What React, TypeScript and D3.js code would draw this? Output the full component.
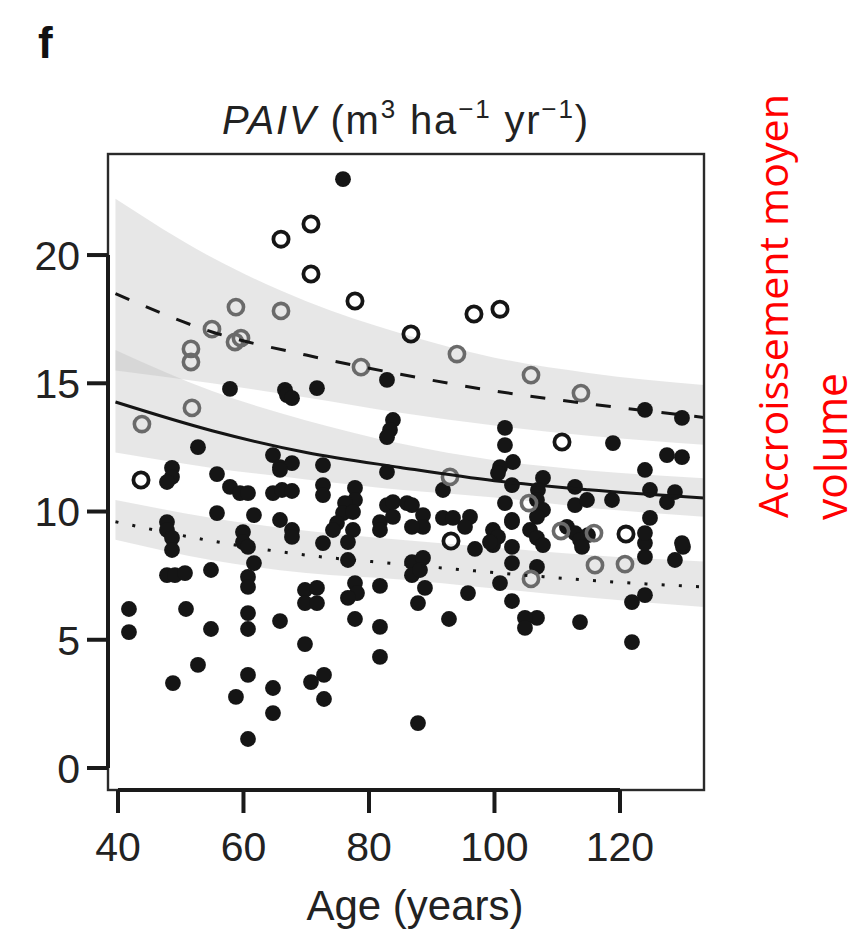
import React from "react";
import * as d3 from "d3";

// ---------- data ----------
const xTicks = [40, 60, 80, 100, 120];
const yTicks = [0, 5, 10, 15, 20];

const filledPoints: [number, number][] = [
  [75.86,22.96],
  [57.85,14.78],[66.61,14.74],[66.93,14.54],[67.73,14.42],[71.71,14.81],[82.87,15.13],
  [83.82,13.57],[83.35,13.18],[82.87,12.90],
  [52.75,12.51],[64.70,12.20],[65.82,11.73],[67.73,11.89],[65.82,11.62],[72.67,11.81],[82.87,11.54],
  [48.61,11.70],[48.61,11.35],[47.81,11.15],[55.78,11.46],
  [57.85,10.96],[59.44,10.72],[60.72,10.72],[64.70,10.72],[66.14,10.84],[67.73,10.80],
  [72.67,11.03],[72.67,10.64],[77.77,10.92],[77.77,10.45],[76.18,10.33],[75.86,9.94],[77.45,9.98],
  [82.87,10.25],[83.82,10.37],
  [55.78,9.94],[61.67,9.86],[65.82,9.67],[67.73,9.28],[67.73,9.01],
  [74.90,9.55],[74.26,9.28],[77.45,9.28],[76.65,8.81],[81.75,9.59],[81.75,9.28],
  [47.81,9.59],[47.81,9.28],[48.61,8.97],[48.61,8.50],
  [59.92,9.20],[59.92,8.81],[60.72,8.62],[72.67,8.77],[86.06,10.33],
  [41.75,6.20],[41.75,5.30],
  [47.81,7.52],[49.08,7.52],[50.68,7.60],[54.82,7.72],[50.84,6.20],[54.82,5.42],[48.76,3.31],[52.75,4.02],
  [61.67,7.99],[60.72,7.45],[60.72,7.06],[60.72,6.04],[60.72,5.42],[65.82,5.73],[60.72,3.63],[58.80,2.77],[64.70,3.12],[64.70,2.14],[60.72,1.13],
  [69.80,6.94],[71.71,7.02],[69.80,6.43],[71.71,6.43],[69.80,4.83],[70.76,3.35],[72.83,3.63],[72.83,2.69],
  [76.65,8.11],[77.77,7.21],[78.09,6.82],[76.65,6.63],[77.77,5.81],[81.75,7.10],[81.75,5.50],[81.75,4.33],
  [87.81,1.75],[86.85,8.03],[88.61,8.19],[86.85,7.52],[88.13,7.72],[88.92,7.02],[87.81,6.43],
  [92.75,5.81],[95.78,6.82],[96.89,8.54],[99.76,8.69],[102.79,8.62],[102.79,7.99],[100.88,7.21],[102.79,6.51],
  [106.77,7.84],[106.77,5.85],[104.86,5.85],[104.86,5.46],[113.63,5.69],
  [123.98,8.23],[123.98,6.74],[121.91,6.47],[121.91,4.91],[128.76,8.11],[130.04,8.62],[123.98,8.77],
  [101.67,13.26],[101.67,12.59],[102.95,11.93],[100.88,11.73],[100.56,11.50],[102.79,11.03],[101.67,10.33],[102.79,9.67],
  [107.73,11.31],[106.93,10.84],[106.77,10.45],[107.73,10.06],[106.77,9.79],
  [112.83,10.96],[112.83,10.25],[114.74,10.45],[118.73,10.45],[118.88,12.67],
  [123.98,13.96],[129.88,13.65],[127.49,12.20],[129.88,12.12],[123.98,11.62],
  [124.78,10.84],[127.49,10.37],[128.76,10.76],[124.78,9.75],[123.98,9.16],[129.88,8.77],
  [91.79,10.84],[83.82,9.79],[86.85,10.25],[88.61,9.86],[88.61,9.40],[86.85,9.40],
  [91.79,9.75],[93.39,9.75],[96.10,9.79],[95.30,9.40],
  [99.76,9.28],[100.56,9.01],[99.28,8.81],[102.79,9.59],
  [105.66,9.28],[106.77,8.97],[107.73,8.69],
  [111.55,9.40],[112.83,9.16],[113.63,8.89],[114.90,9.08],[113.95,8.62],
];

const openBlackPoints: [number, number][] = [
  [65.98,20.62],[70.76,21.21],[70.76,19.26],[77.77,18.21],[86.69,16.92],[96.73,17.70],
  [100.88,17.89],[43.67,11.23],[110.76,12.71],[93.07,8.85],[120.96,9.12],
];

const openGrayPoints: [number, number][] = [
  [43.82,13.41],[51.79,14.04],[51.63,16.34],[51.63,15.83],[54.98,17.11],[58.80,17.97],
  [58.65,16.61],[59.60,16.76],[65.98,17.82],[78.73,15.63],[94.02,16.14],[105.82,15.32],
  [113.78,14.62],[92.91,11.35],[105.50,10.33],[105.82,7.37],[116.02,7.91],[120.80,7.95],
  [115.86,9.16],[110.60,9.24],
];

// fitted curves and confidence bands, sampled at these ages
const curveAges = [39.6, 55, 70, 85, 100, 115, 133.4];
const dashedFit = [18.5, 17.0, 16.1, 15.35, 14.7, 14.2, 13.67];
const solidFit = [14.27, 13.15, 12.3, 11.72, 11.2, 10.85, 10.53];
const dottedFit = [9.6, 8.85, 8.3, 7.95, 7.62, 7.32, 7.06];
const upperBandHi = [22.2, 19.9, 18.2, 16.95, 16.0, 15.4, 14.93];
const upperBandLo = [15.5, 15.0, 14.45, 13.85, 13.35, 12.95, 12.6];
const midBandHi = [16.3, 14.7, 13.55, 12.65, 12.0, 11.6, 11.3];
const midBandLo = [12.3, 11.7, 11.25, 10.85, 10.55, 10.15, 9.8];
const lowBandHi = [10.45, 9.75, 9.25, 8.9, 8.6, 8.3, 8.05];
const lowBandLo = [8.9, 8.1, 7.6, 7.35, 7.0, 6.65, 6.28];

const W = 863;
const H = 929;
const FONT = "'Liberation Sans', Arial, Helvetica, sans-serif";
const RED_FONT = "'Open Sans', 'Noto Sans', sans-serif";

export default function App() {
  const left = 108, right = 704, top = 154, bottom = 790;
  const x = d3.scaleLinear().domain([38.41, 133.39]).range([left, right]);
  const y = d3.scaleLinear().domain([-0.858, 23.94]).range([bottom, top]);

  const line = (vals: number[]) =>
    d3.line<number>()
      .x((_, i) => x(curveAges[i]))
      .y((v) => y(v))
      .curve(d3.curveMonotoneX)(vals) as string;
  const area = (hi: number[], lo: number[]) =>
    d3.area<number>()
      .x((_, i) => x(curveAges[i]))
      .y0((_, i) => y(lo[i]))
      .y1((v) => y(v))
      .curve(d3.curveMonotoneX)(hi) as string;

  const bandFill = "#bcbcbc";
  const bandOp = 0.36;

  return (
    <svg width={W} height={H} style={{ position: "absolute", left: 0, top: 0, background: "#fff" }}>
      <defs>
        <clipPath id="plotclip">
          <rect x={left} y={top} width={right - left} height={bottom - top} />
        </clipPath>
      </defs>
      <text x={38} y={58} fontFamily={FONT} fontWeight="bold" fontSize={44} fill="#111">f</text>
      <text x={405} y={134} textAnchor="middle" fontFamily={FONT} fontSize={40} fill="#222" textLength={366} lengthAdjust="spacing">
        <tspan fontStyle="italic">PAIV</tspan>
        <tspan> (m</tspan>
        <tspan fontSize={26} dy={-16}>3</tspan>
        <tspan dy={16}> ha</tspan>
        <tspan fontSize={26} dy={-16}>−1</tspan>
        <tspan dy={16}> yr</tspan>
        <tspan fontSize={26} dy={-16}>−1</tspan>
        <tspan dy={16}>)</tspan>
      </text>

      <g clipPath="url(#plotclip)">
        <path d={area(upperBandHi, upperBandLo)} fill={bandFill} fillOpacity={bandOp} />
        <path d={area(midBandHi, midBandLo)} fill={bandFill} fillOpacity={bandOp} />
        <path d={area(lowBandHi, lowBandLo)} fill={bandFill} fillOpacity={bandOp} />
        {filledPoints.map(([a, v], i) => (
          <circle key={"f" + i} cx={x(a)} cy={y(v)} r={7.9} fill="#151515" />
        ))}
        {openGrayPoints.map(([a, v], i) => (
          <circle key={"g" + i} cx={x(a)} cy={y(v)} r={7.6} fill="none" stroke="#6a6a6a" strokeWidth={3.6} />
        ))}
        {openBlackPoints.map(([a, v], i) => (
          <circle key={"b" + i} cx={x(a)} cy={y(v)} r={7.6} fill="none" stroke="#151515" strokeWidth={3.8} />
        ))}
        <path d={line(dashedFit)} fill="none" stroke="#151515" strokeWidth={3} strokeDasharray="15,18" />
        <path d={line(solidFit)} fill="none" stroke="#151515" strokeWidth={3} />
        <path d={line(dottedFit)} fill="none" stroke="#151515" strokeWidth={3} strokeDasharray="3,14.2" />
      </g>

      <rect x={left} y={top} width={right - left} height={bottom - top} fill="none" stroke="#2a2a2a" strokeWidth={2.4} />
      {/* x axis */}
      <line x1={x(xTicks[0])} x2={x(xTicks[xTicks.length - 1])} y1={bottom} y2={bottom} stroke="#1a1a1a" strokeWidth={4} />
      {xTicks.map((t) => (
        <g key={"xt" + t}>
          <line x1={x(t)} x2={x(t)} y1={bottom} y2={bottom + 23} stroke="#1a1a1a" strokeWidth={4} />
          <text x={x(t)} y={861} textAnchor="middle" fontFamily={FONT} fontSize={41} fill="#222">{t}</text>
        </g>
      ))}
      {/* y axis */}
      <line x1={left} x2={left} y1={y(yTicks[0])} y2={y(yTicks[yTicks.length - 1])} stroke="#1a1a1a" strokeWidth={4} />
      {yTicks.map((t) => (
        <g key={"yt" + t}>
          <line x1={left} x2={left - 21} y1={y(t)} y2={y(t)} stroke="#1a1a1a" strokeWidth={4} />
          <text x={80} y={y(t)} dy="0.36em" textAnchor="end" fontFamily={FONT} fontSize={41} fill="#222">{t}</text>
        </g>
      ))}
      <text x={415} y={920} textAnchor="middle" fontFamily={FONT} fontSize={42} fill="#222">Age (years)</text>

      <text transform="translate(788,518) rotate(-90)" fontFamily={RED_FONT} fontSize={41} fill="#ff0000" textLength={424} lengthAdjust="spacingAndGlyphs">Accroissement moyen</text>
      <text transform="translate(847,520) rotate(-90)" fontFamily={RED_FONT} fontSize={43} fill="#ff0000" textLength={147} lengthAdjust="spacingAndGlyphs">volume</text>
    </svg>
  );
}
